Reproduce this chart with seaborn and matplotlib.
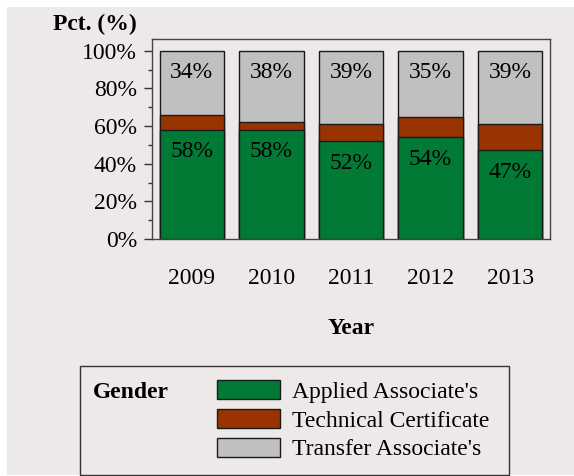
import matplotlib
matplotlib.use("Agg")
import matplotlib.pyplot as plt
from matplotlib.patches import Rectangle, Patch
from matplotlib.ticker import MultipleLocator, FuncFormatter
import numpy as np
import pandas as pd
import seaborn as sns

# Credential mix by graduation year (percent of awards)
years = ["2009", "2010", "2011", "2012", "2013"]
applied = [58, 58, 52, 54, 47]
technical = [8, 4, 9, 11, 14]
transfer = [34, 38, 39, 35, 39]
series_names = ["Applied Associate's", "Technical Certificate", "Transfer Associate's"]
series_colors = ["#007A35", "#993300", "#C0C0C0"]

W, H = 574, 476
BG = "#EDE9E8"
FONT = "Liberation Serif"
FS = 17
FS_PX = FS * 100 / 72

plt.rcParams["font.family"] = [FONT, "DejaVu Serif"]
plt.rcParams["font.size"] = FS

def fx(x):
    return x / W

def fy(y):
    return 1 - y / H

fig = plt.figure(figsize=(W / 100, H / 100), dpi=100, facecolor="white")
fig.patches.append(Rectangle((fx(7), fy(475)), fx(W - 7), (475 - 7) / H,
                             transform=fig.transFigure, facecolor=BG,
                             edgecolor="none", zorder=-10))

ax = fig.add_axes([fx(152), fy(239), fx(550 - 152), (239 - 39) / H])
ax.set_facecolor(BG)

df = pd.DataFrame({"Year": years, "Applied": applied,
                   "Technical": technical, "Transfer": transfer})
df["top_tech"] = df["Applied"] + df["Technical"]
df["top_all"] = df["top_tech"] + df["Transfer"]

# Layered cumulative bars give the stacked look
for col, color in zip(["top_all", "top_tech", "Applied"], series_colors[::-1]):
    sns.barplot(data=df, x="Year", y=col, order=years, color=color,
                saturation=1, width=0.81, edgecolor="#1a1a1a", linewidth=1,
                errorbar=None, ax=ax)

# Value labels just under the top of the applied and transfer segments
for i in range(len(years)):
    ax.annotate(f"{applied[i]}%", xy=(i, applied[i]), xytext=(0, -22),
                textcoords="offset pixels", ha="center", va="center", fontsize=FS)
    top = applied[i] + technical[i] + transfer[i]
    ax.annotate(f"{transfer[i]}%", xy=(i, top), xytext=(0, -22),
                textcoords="offset pixels", ha="center", va="center", fontsize=FS)

ax.set_xlim(-0.5, 4.5)
ax.set_ylim(0, 106.2)
ax.yaxis.set_major_locator(MultipleLocator(20))
ax.yaxis.set_minor_locator(MultipleLocator(10))
ax.yaxis.set_major_formatter(FuncFormatter(lambda v, p: f"{int(v)}%"))
ax.tick_params(axis="y", which="major", direction="out", length=5.8, width=1,
               pad=5, labelsize=FS, color="#333333")
ax.tick_params(axis="y", which="minor", direction="out", length=2.9, width=1,
               color="#333333")
ax.tick_params(axis="x", length=0, pad=21, labelsize=FS)
for s in ax.spines.values():
    s.set_color("#444444")
    s.set_linewidth(1)

ax.set_ylabel("")
ax.set_xlabel("Year", fontweight="bold", fontsize=FS, va="center")
ax.xaxis.set_label_coords(0.5, -(328 - 239) / 200)

fig.text(fx(137), fy(24), "Pct. (%)", ha="right", va="center",
         fontweight="bold", fontsize=FS)

# Legend panel
fig.patches.append(Rectangle((fx(80), fy(475)), fx(509 - 80), (475 - 366) / H,
                             transform=fig.transFigure, facecolor="none",
                             edgecolor="#333333", linewidth=1))
fig.text(fx(93), fy(392), "Gender", ha="left", va="center",
         fontweight="bold", fontsize=FS)
handles = [Patch(facecolor=c, edgecolor="#1a1a1a", linewidth=1) for c in series_colors]
fig.legend(handles, series_names, loc="upper left",
           bbox_to_anchor=(fx(217), fy(380)), bbox_transform=fig.transFigure,
           frameon=False, fontsize=FS, handlelength=63 / FS_PX,
           handleheight=20 / FS_PX, handletextpad=12 / FS_PX, labelspacing=0.27,
           borderpad=0, borderaxespad=0)

fig.savefig("out.png", dpi=100, facecolor="white")
